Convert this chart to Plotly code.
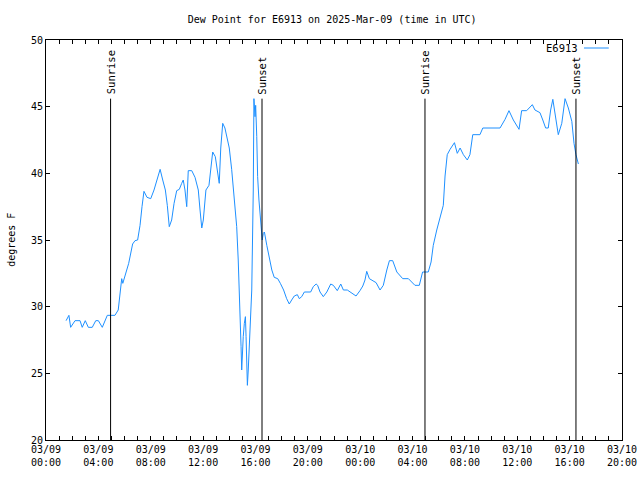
import pandas as pd
import plotly.graph_objects as go

# minutes since 2025-03-09 00:00 UTC
minutes = [92, 105, 113, 133, 156, 166, 180, 194, 212, 228, 240, 258, 281, 316, 331, 342, 347, 352, 361,
           379, 397, 408, 420, 431, 440, 449, 463, 480, 495, 507, 523, 535, 547, 556, 565, 576, 587, 599,
           611, 622, 629, 637, 645, 652, 668, 683, 698, 706, 714, 721, 733, 747, 755, 764, 776, 785, 794,
           801, 810, 820, 828, 840, 851, 859, 866, 874, 881, 889, 894, 897, 900, 904, 909, 914, 917, 920,
           923, 927, 935, 943, 950, 953, 958, 961, 966, 970, 976, 985, 991, 996, 1001, 1012, 1024, 1035,
           1046, 1062, 1074, 1089, 1103, 1115, 1126, 1138, 1152, 1161, 1172, 1184, 1213, 1225, 1238, 1245,
           1256, 1271, 1287, 1305, 1317, 1335, 1351, 1363, 1381, 1403, 1421, 1439, 1452, 1462, 1470, 1482,
           1498, 1513, 1531, 1546, 1562, 1574, 1589, 1608, 1635, 1661, 1691, 1711, 1726, 1752, 1765, 1775,
           1791, 1803, 1814, 1821, 1829, 1839, 1852, 1862, 1872, 1885, 1898, 1913, 1931, 1943, 1956, 1989,
           2002, 2081, 2104, 2122, 2142, 2168, 2180, 2203, 2229, 2241, 2264, 2277, 2290, 2302, 2313, 2323,
           2333, 2348, 2364, 2379, 2394, 2410, 2420, 2429, 2440]
dewpoint = [28.95, 29.35, 28.45, 28.95, 28.95, 28.45, 28.95, 28.45, 28.45, 28.95, 28.95, 28.45, 29.35,
            29.35, 29.75, 31.25, 32.1, 31.75, 32.25, 33.25, 34.7, 34.95, 35.0, 36.1, 37.5, 38.65, 38.2,
            38.1, 38.75, 39.5, 40.3, 39.5, 38.75, 37.6, 36.0, 36.5, 37.75, 38.7, 38.8, 39.25, 39.5, 38.75,
            37.5, 40.2, 40.2, 39.7, 38.75, 37.25, 35.9, 36.5, 38.75, 39.1, 40.45, 41.6, 41.25, 40.25, 39.25,
            41.9, 43.75, 43.4, 42.75, 41.9, 40.3, 38.75, 37.1, 36.0, 33.5, 30.25, 27.0, 25.25, 26.75, 27.75,
            28.75, 29.25, 27.75, 25.5, 24.1, 25.25, 27.75, 31.25, 38.75, 45.6, 44.25, 45.1, 42.75, 39.75,
            38.0, 36.0, 35.0, 35.5, 35.6, 34.6, 33.5, 32.75, 32.2, 32.1, 31.75, 31.25, 30.6, 30.2, 30.5,
            30.8, 30.9, 30.6, 30.75, 31.1, 31.1, 31.5, 31.7, 31.6, 31.1, 30.75, 31.1, 31.7, 31.6, 31.2,
            31.7, 31.25, 31.25, 31.0, 30.8, 31.2, 31.55, 32.0, 32.65, 32.1, 31.95, 31.8, 31.25, 31.6, 32.75,
            33.45, 33.45, 32.6, 32.1, 32.1, 31.6, 31.6, 32.6, 32.6, 33.35, 34.6, 35.75, 36.5, 37.05, 37.6,
            39.8, 41.4, 41.8, 42.1, 42.3, 41.5, 41.9, 41.4, 41.0, 41.4, 42.9, 42.9, 43.4, 43.4, 44.05, 44.7,
            44.0, 43.3, 44.7, 44.7, 45.15, 44.75, 44.55, 44.0, 43.4, 43.4, 44.75, 45.55, 44.5, 42.9, 43.75,
            45.6, 44.9, 43.9, 42.25, 41.4, 40.7]

sun_times = ["2025-03-09 04:56", "2025-03-09 16:30", "2025-03-10 04:57", "2025-03-10 16:29"]
sun_labels = ["Sunrise", "Sunset", "Sunrise", "Sunset"]
sun_line_top = 45.6

station = "E6913"
title = "Dew Point for E6913 on 2025-Mar-09 (time in UTC)"
y_title = "degrees F"
x_range = ["2025-03-09 00:00", "2025-03-10 20:00"]
y_range = [20, 50]

base = pd.Timestamp("2025-03-09 00:00")
times = base + pd.to_timedelta(minutes, unit="min")

FONT = "DejaVu Sans Mono"
BLUE = "#1e90ff"

fig = go.Figure()
fig.add_trace(go.Scatter(x=times, y=dewpoint, mode="lines", name=station,
                         line=dict(color=BLUE, width=1), showlegend=False, hoverinfo="skip"))

for t, lab in zip(sun_times, sun_labels):
    fig.add_shape(type="line", xref="x", yref="y", x0=t, x1=t, y0=y_range[0], y1=sun_line_top,
                  line=dict(color="black", width=1))
    fig.add_annotation(x=t, y=sun_line_top, xref="x", yref="y", text=lab, textangle=-90,
                       showarrow=False, xanchor="center", yanchor="bottom", yshift=2,
                       font=dict(family=FONT, size=10.5, color="black"))

# legend (gnuplot style: text then line sample)
fig.add_annotation(x=0.927, y=0.98, xref="paper", yref="paper", text=station, showarrow=False,
                   xanchor="right", yanchor="middle", font=dict(family=FONT, size=10.5, color="black"))
fig.add_shape(type="line", xref="paper", yref="paper", x0=0.934, x1=0.977, y0=0.98, y1=0.98,
              line=dict(color=BLUE, width=1))

fig.add_annotation(x=-0.061, y=0.5, xref="paper", yref="paper", text=y_title, textangle=-90,
                   showarrow=False, xanchor="center", yanchor="middle",
                   font=dict(family=FONT, size=10, color="black"))

fig.update_layout(
    width=640, height=480,
    margin=dict(l=46, r=18, t=40, b=40, autoexpand=False),
    paper_bgcolor="white", plot_bgcolor="white",
    font=dict(family=FONT, size=10, color="black"),
    title=dict(text=title, x=0.519, xanchor="center", y=0.96, yanchor="middle",
               font=dict(family=FONT, size=10, color="black")),
    xaxis=dict(range=x_range, type="date", showgrid=False, zeroline=False,
               showline=True, linecolor="black", linewidth=1, mirror="ticks",
               ticks="inside", ticklen=4, tickcolor="black", ticklabeloverflow="allow",
               tick0="2025-03-09 00:00", dtick=4 * 3600000, tickformat="%m/%d<br>%H:%M",
               minor=dict(dtick=3600000, ticks="inside", ticklen=4, tickcolor="black", showgrid=False),
               tickfont=dict(family=FONT, size=10, color="black")),
    yaxis=dict(range=y_range, showgrid=False, zeroline=False,
               showline=True, linecolor="black", linewidth=1, mirror="ticks",
               ticks="inside", ticklen=4, tickcolor="black", dtick=5,
               tickfont=dict(family=FONT, size=10, color="black")),
)

fig.write_html("out.html", config={"displayModeBar": False},
               post_script="document.body.style.margin='0px';")
